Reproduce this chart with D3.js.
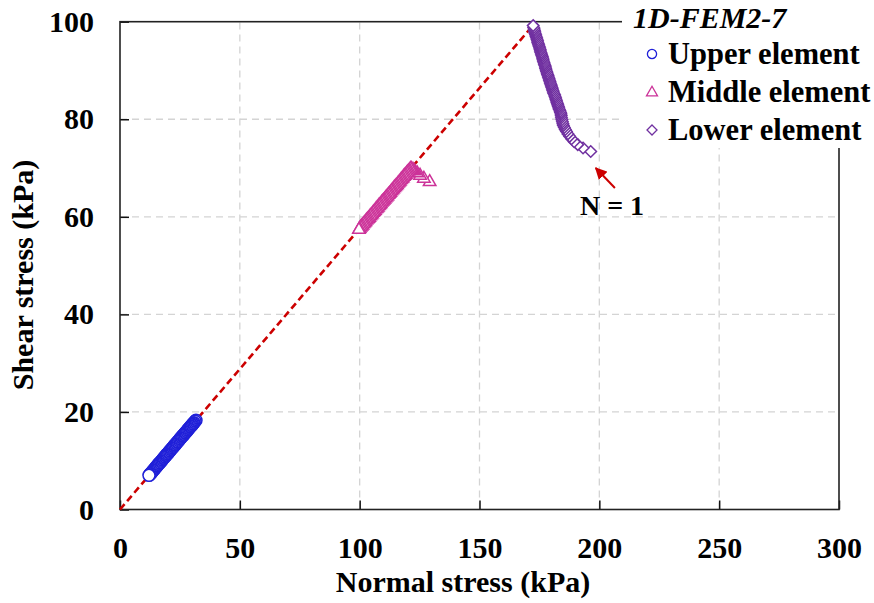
<!DOCTYPE html>
<html><head><meta charset="utf-8">
<script src="https://cdn.jsdelivr.net/npm/d3@7"></script>
<style>body{margin:0;background:#fff}svg{display:block}</style>
</head><body>
<svg id="c" width="874" height="603"></svg>
<script>
const xTicks = [0, 50, 100, 150, 200, 250, 300];
const yTicks = [0, 20, 40, 60, 80, 100];
const seriesNames = ["Upper element", "Middle element", "Lower element"];
const legendTitle = "1D-FEM2-7";
const xTitle = "Normal stress (kPa)";
const yTitle = "Shear stress (kPa)";
const annotation = "N = 1";
// failure line [normal, shear]
const failureLine = [[0, 0], [172.4, 99.3]];
// [normal stress, shear stress], ordered from N = 1
const upperPoints = [[31.7,18.3],[31.3,18.1],[30.9,17.8],[30.6,17.7],[30.3,17.5],[30.0,17.3],[29.7,17.1],[29.4,17.0],[29.1,16.8],[28.8,16.6],[28.5,16.5],[28.2,16.3],[27.9,16.1],[27.6,15.9],[27.3,15.8],[27.0,15.6],[26.7,15.4],[26.4,15.2],[26.1,15.1],[25.8,14.9],[25.5,14.7],[25.2,14.6],[24.9,14.4],[24.6,14.2],[24.3,14.0],[24.0,13.9],[23.7,13.7],[23.4,13.5],[23.1,13.3],[22.8,13.2],[22.5,13.0],[22.2,12.8],[21.9,12.6],[21.6,12.5],[21.3,12.3],[21.0,12.1],[20.7,12.0],[20.4,11.8],[20.1,11.6],[19.8,11.4],[19.5,11.3],[19.2,11.1],[18.9,10.9],[18.6,10.7],[18.3,10.6],[18.0,10.4],[17.7,10.2],[17.4,10.0],[17.1,9.9],[16.8,9.7],[16.5,9.5],[16.2,9.4],[15.9,9.2],[15.6,9.0],[15.3,8.8],[15.0,8.7],[14.7,8.5],[14.4,8.3],[14.1,8.1],[13.8,8.0],[13.5,7.8],[13.2,7.6],[12.9,7.4],[12.6,7.3],[12.3,7.1],[12.1,7.0]];
const middlePoints = [[129.2,67.3],[126.8,68.0],[125.2,68.6],[124.0,69.1],[123.0,69.5],[122.3,69.8],[121.7,70.0],[121.2,70.0],[120.8,69.7],[120.4,69.5],[120.0,69.3],[119.6,69.1],[119.2,68.8],[118.8,68.6],[118.4,68.4],[118.0,68.1],[117.6,67.9],[117.2,67.7],[116.8,67.4],[116.4,67.2],[116.0,67.0],[115.6,66.7],[115.2,66.5],[114.8,66.3],[114.4,66.1],[114.0,65.8],[113.6,65.6],[113.2,65.4],[112.8,65.1],[112.4,64.9],[112.0,64.7],[111.6,64.4],[111.2,64.2],[110.8,64.0],[110.4,63.7],[110.0,63.5],[109.6,63.3],[109.2,63.1],[108.8,62.8],[108.4,62.6],[108.0,62.4],[107.6,62.1],[107.2,61.9],[106.8,61.7],[106.4,61.4],[106.0,61.2],[105.6,61.0],[105.2,60.7],[104.8,60.5],[104.4,60.3],[104.0,60.0],[103.6,59.8],[103.2,59.6],[102.8,59.4],[102.4,59.1],[102.0,58.9],[101.6,58.7],[101.2,58.4],[100.8,58.2],[100.4,58.0],[100.0,57.7],[99.7,57.5]];
const lowerPoints = [[196.4,73.4],[193.2,74.1],[191.0,74.8],[189.5,75.4],[188.4,76.0],[187.6,76.5],[186.9,77.0],[186.3,77.5],[185.8,77.9],[185.4,78.3],[185.0,78.7],[184.8,79.1],[184.6,79.5],[184.4,79.9],[184.2,80.3],[184.1,80.7],[184.0,81.1],[183.8,81.4],[183.6,81.7],[183.3,82.0],[183.1,82.3],[182.9,82.6],[182.7,82.9],[182.5,83.2],[182.3,83.5],[182.1,83.8],[181.9,84.1],[181.7,84.4],[181.5,84.7],[181.3,85.0],[181.0,85.3],[180.8,85.6],[180.6,85.9],[180.4,86.2],[180.2,86.5],[180.0,86.8],[179.8,87.1],[179.6,87.4],[179.4,87.7],[179.2,88.0],[179.0,88.3],[178.8,88.6],[178.6,88.9],[178.4,89.2],[178.2,89.5],[178.0,89.8],[177.8,90.1],[177.6,90.4],[177.5,90.7],[177.3,91.0],[177.1,91.3],[176.9,91.6],[176.7,91.9],[176.5,92.2],[176.4,92.5],[176.2,92.8],[176.0,93.1],[175.8,93.4],[175.6,93.7],[175.4,94.0],[175.3,94.3],[175.1,94.6],[174.9,94.9],[174.7,95.2],[174.5,95.5],[174.3,95.8],[174.2,96.1],[174.0,96.4],[173.8,96.7],[173.6,97.0],[173.4,97.3],[173.2,97.6],[173.1,97.9],[172.9,98.2],[172.8,98.5],[172.6,98.8],[172.4,99.2]];
const colors = ["#2020d8", "#cc3399", "#7030a0"];

const svg = d3.select("#c");
const font = "'Liberation Serif','Times New Roman',serif";
const x = d3.scaleLinear().domain([0, 300]).range([120, 839]);
const y = d3.scaleLinear().domain([0, 100]).range([509.5, 21.7]);

// grid
const grid = svg.append("g").attr("stroke", "#d4d4d4").attr("stroke-width", 1.3).attr("stroke-dasharray", "7,5");
grid.selectAll(".gx").data(xTicks.slice(1, -1)).join("line")
  .attr("x1", d => x(d)).attr("x2", d => x(d)).attr("y1", y(0)).attr("y2", y(100));
grid.selectAll(".gy").data(yTicks.slice(1, -1)).join("line")
  .attr("y1", d => y(d)).attr("y2", d => y(d)).attr("x1", x(0)).attr("x2", x(300));

// axes
const xAxis = svg.append("g").attr("transform", `translate(0,${y(0)})`)
  .call(d3.axisBottom(x).tickValues(xTicks).tickSizeInner(-9).tickSizeOuter(0).tickPadding(27.5));
const yAxis = svg.append("g").attr("transform", `translate(${x(0)},0)`)
  .call(d3.axisLeft(y).tickValues(yTicks).tickSizeInner(-9).tickSizeOuter(0).tickPadding(26));
[xAxis, yAxis].forEach(a => {
  a.select(".domain").remove();
  a.selectAll(".tick line").attr("stroke", "#111").attr("stroke-width", 1.5);
  a.selectAll(".tick text").attr("font-family", font).attr("font-weight", "bold")
    .attr("font-size", 30).attr("fill", "#000");
});

// frame
svg.append("rect").attr("x", x(0)).attr("y", y(100)).attr("width", x(300) - x(0)).attr("height", y(0) - y(100))
  .attr("fill", "none").attr("stroke", "#222").attr("stroke-width", 1.6);

// failure line
svg.append("path").datum(failureLine)
  .attr("d", d3.line().x(d => x(d[0])).y(d => y(d[1])))
  .attr("fill", "none").attr("stroke", "#cc0000").attr("stroke-width", 2.6).attr("stroke-dasharray", "7,4");

// marker paths
const circlePath = r => d3.symbol(d3.symbolCircle, Math.PI * r * r)();
function triPath(s) { const h = s * Math.sqrt(3) / 2; return `M0,${-h * 0.6}L${s / 2},${h * 0.4}L${-s / 2},${h * 0.4}Z`; }
function diaPath(s) { const a = s / 2; return `M0,${-a}L${a},0L0,${a}L${-a},0Z`; }
const markers = [circlePath(6.0), triPath(12.5), diaPath(11.5)];
const legendMarkers = [circlePath(4.6), triPath(11), diaPath(10)];

[upperPoints, middlePoints, lowerPoints].forEach((pts, i) => {
  svg.append("g").selectAll("path").data(pts).join("path")
    .attr("d", markers[i])
    .attr("transform", d => `translate(${x(d[0])},${y(d[1])})`)
    .attr("fill", "#fff").attr("stroke", colors[i]).attr("stroke-width", 1.5);
});

// annotation
svg.append("defs").append("marker").attr("id", "ah").attr("viewBox", "0 0 10 10")
  .attr("refX", 9).attr("refY", 5).attr("markerWidth", 6).attr("markerHeight", 6)
  .attr("markerUnits", "strokeWidth").attr("orient", "auto")
  .append("path").attr("d", "M0,0L10,5L0,10Z").attr("fill", "#cc0000");
svg.append("line").attr("x1", x(206.5)).attr("y1", y(65.9)).attr("x2", x(198.5)).attr("y2", y(70))
  .attr("stroke", "#cc0000").attr("stroke-width", 2).attr("marker-end", "url(#ah)");
svg.append("text").attr("x", 612).attr("y", 215).attr("text-anchor", "middle")
  .attr("font-family", font).attr("font-weight", "bold").attr("font-size", 28).text(annotation);

// legend
const lg = svg.append("g");
lg.append("rect").attr("x", 622).attr("y", 0).attr("width", 252).attr("height", 148).attr("fill", "#fff");
lg.append("text").attr("x", 633).attr("y", 28).attr("font-family", font).attr("font-weight", "bold")
  .attr("font-style", "italic").attr("font-size", 30).text(legendTitle);
seriesNames.forEach((n, i) => {
  const cy = 54 + i * 38;
  lg.append("path").attr("d", legendMarkers[i]).attr("transform", `translate(652,${cy})`)
    .attr("fill", "#fff").attr("stroke", colors[i]).attr("stroke-width", 1.3);
  lg.append("text").attr("x", 668).attr("y", cy + 10.3).attr("font-family", font).attr("font-weight", "bold")
    .attr("font-size", 30.5).text(n);
});

// titles
svg.append("text").attr("x", 463).attr("y", 592).attr("text-anchor", "middle")
  .attr("font-family", font).attr("font-weight", "bold").attr("font-size", 30).text(xTitle);
svg.append("text").attr("transform", "translate(33,275) rotate(-90)").attr("text-anchor", "middle")
  .attr("font-family", font).attr("font-weight", "bold").attr("font-size", 30).text(yTitle);
</script>
</body></html>
